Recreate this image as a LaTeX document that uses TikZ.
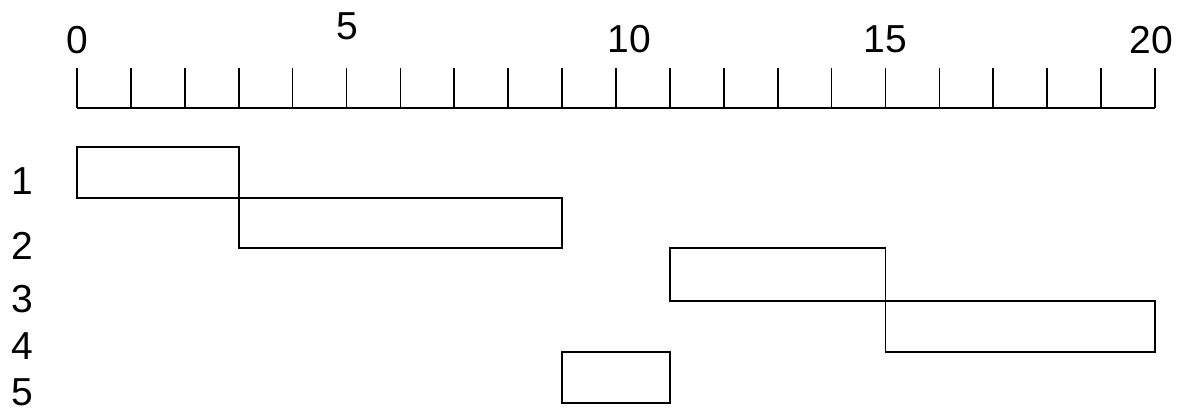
\documentclass[tikz,border=0pt]{standalone}
\usepackage{fontspec}
\setmainfont{Liberation Sans}
\begin{document}
\begin{tikzpicture}[x=1pt,y=-1pt,line width=1.7pt,
  lbl/.style={font=\fontsize{39}{40}\selectfont, inner sep=0pt},
  bar/.style={draw, line width=1.7pt}]
\useasboundingbox (0,0) rectangle (1177,413);
% axis
\coordinate (a0) at (77,108);
\coordinate (a20) at (1155,108);
\draw (a0) -- (a20);
\foreach \i in {0,...,20} \draw ({77+53.9*\i},68) -- ({77+53.9*\i},108);
% axis labels
\node[lbl] (l0) at (77,40) {0};
\node[lbl] (l5) at (347,26) {5};
\node[lbl] (l10) at (629,39) {10};
\node[lbl] (l15) at (885,39) {15};
\node[lbl] (l20) at (1151,40) {20};
% row labels
\node[lbl] (r1) at (22,181) {1};
\node[lbl] (r2) at (22,246) {2};
\node[lbl] (r3) at (22,299) {3};
\node[lbl] (r4) at (22,346) {4};
\node[lbl] (r5) at (22,392) {5};
% bars
\draw[bar] (77,147) rectangle (238.7,198);
\draw[bar] (238.7,198) rectangle (562.1,248);
\draw[bar] (669.9,248) rectangle (885.5,301);
\draw[bar] (885.5,301) rectangle (1155,352);
\draw[bar] (562.1,352) rectangle (669.9,403);
\end{tikzpicture}
\end{document}
